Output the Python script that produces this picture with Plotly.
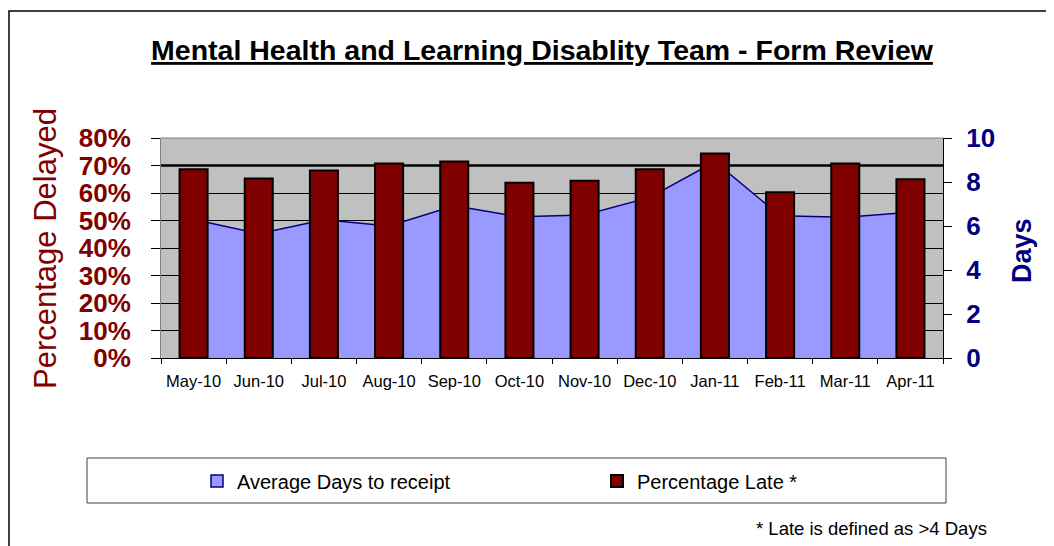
import plotly.graph_objects as go

categories = ["May-10", "Jun-10", "Jul-10", "Aug-10", "Sep-10", "Oct-10",
              "Nov-10", "Dec-10", "Jan-11", "Feb-11", "Mar-11", "Apr-11"]
pct_late = [0.686, 0.653, 0.682, 0.707, 0.715, 0.637,
            0.645, 0.686, 0.744, 0.603, 0.707, 0.650]
avg_days = [6.30, 5.65, 6.28, 6.00, 6.92, 6.42,
            6.50, 7.30, 8.92, 6.47, 6.40, 6.63]
pct_ticks = [0, 0.1, 0.2, 0.3, 0.4, 0.5, 0.6, 0.7, 0.8]
day_ticks = [0, 2, 4, 6, 8, 10]
target_pct = 0.70

FONT = "Liberation Sans, Arial, sans-serif"
DARKRED = "#800000"
NAVY = "#000080"
AREA = "#9999FF"

fig = go.Figure()

# Area: average days (main subplot, right-hand days axis)
fig.add_trace(go.Scatter(
    x=categories, y=avg_days, mode="lines", fill="tozeroy",
    fillcolor=AREA, line=dict(color=NAVY, width=1.5),
    name="Average Days to receipt", showlegend=False, yaxis="y"))

# legend proxy for the area series (square symbol)
fig.add_trace(go.Bar(
    x=[categories[0]], y=[None], name="Average Days to receipt",
    marker=dict(color=AREA, line=dict(color=NAVY, width=1.5)), yaxis="y"))

# Bars: percentage late (overlay subplot, left-hand percent axis)
fig.add_trace(go.Bar(
    x=categories, y=pct_late, name="Percentage Late *", width=0.43,
    marker=dict(color=DARKRED, line=dict(color="black", width=2)),
    yaxis="y2"))

# page coordinates (the page body adds an 8px offset)
OFF = 8
L, R, T, B = 161, 943, 138, 358
W, H = 1054 - OFF, 546 - OFF
pw, ph = R - L, B - T

def px(x):
    return (x - L) / pw

def py(y):
    return (B - y) / ph

fig.update_layout(
    width=W, height=H,
    margin=dict(l=L - OFF, r=W - (R - OFF), t=T - OFF, b=H - (B - OFF), autoexpand=False),
    paper_bgcolor="white", plot_bgcolor="#C0C0C0",
    barmode="overlay",
    font=dict(family=FONT, color="black"),
    title=dict(text="<b><u>Mental Health and Learning Disablity Team - Form Review</u></b>",
               x=(542 - OFF) / W, xanchor="center", y=1 - (50 - OFF) / H, yanchor="middle",
               font=dict(size=28.5, color="black", family=FONT)),
    xaxis=dict(type="category", range=[-0.5, 11.5], tickson="boundaries",
               ticks="outside", ticklen=5, tickcolor="black", tickwidth=1,
               showline=True, linecolor="black", linewidth=1,
               showgrid=False, tickfont=dict(size=16.5, color="black"),
               ticklabelstandoff=8),
    yaxis=dict(side="right", range=[0, 10], tickvals=day_ticks,
               ticks="outside", ticklen=8, tickcolor="black",
               showline=True, linecolor="black", linewidth=1,
               showgrid=False, zeroline=False,
               tickfont=dict(size=26, color=NAVY, family=FONT, weight="bold"),
               ticklabelstandoff=9),
    yaxis2=dict(side="left", overlaying="y", range=[0, 0.8], tickvals=pct_ticks,
                tickformat=".0%", ticks="outside", ticklen=9, tickcolor="black",
                showline=True, linecolor="#808080", linewidth=1,
                showgrid=True, gridcolor="black", gridwidth=1, zeroline=False,
                tickfont=dict(size=26, color=DARKRED, family=FONT, weight="bold"),
                ticklabelstandoff=15),
    legend=dict(orientation="h", x=px(997), xanchor="right", y=py(481), yanchor="middle",
                bgcolor="rgba(0,0,0,0)", borderwidth=0,
                entrywidth=355, entrywidthmode="pixels", itemwidth=30,
                font=dict(size=20, color="black", family=FONT), traceorder="normal"),
    showlegend=True,
)

# target line at 70%
fig.add_shape(type="line", xref="paper", x0=0, x1=1, yref="y",
              y0=target_pct / pct_ticks[-1] * day_ticks[-1],
              y1=target_pct / pct_ticks[-1] * day_ticks[-1],
              line=dict(color="black", width=2.5), layer="below")
# top border of plot area
fig.add_shape(type="line", xref="paper", yref="paper", x0=0, x1=1, y0=1, y1=1,
              line=dict(color="#808080", width=1))
# legend box
fig.add_shape(type="rect", xref="paper", yref="paper",
              x0=px(87), x1=px(946), y0=py(503), y1=py(458),
              line=dict(color="#404040", width=1), fillcolor="rgba(0,0,0,0)")
# chart border
fig.add_shape(type="rect", xref="paper", yref="paper",
              x0=px(9), x1=px(1070), y0=py(570), y1=py(11),
              line=dict(color="black", width=1.5), fillcolor="rgba(0,0,0,0)")

fig.add_annotation(text="Percentage Delayed", textangle=-90, showarrow=False,
                   xref="paper", yref="paper", x=px(45), y=py(249),
                   xanchor="center", yanchor="middle",
                   font=dict(size=31, color=DARKRED, family=FONT))
fig.add_annotation(text="<b>Days</b>", textangle=-90, showarrow=False,
                   xref="paper", yref="paper", x=px(1022), y=py(251),
                   xanchor="center", yanchor="middle",
                   font=dict(size=27, color=NAVY, family=FONT))
fig.add_annotation(text="* Late is defined as >4 Days", showarrow=False,
                   xref="paper", yref="paper", x=px(989), y=py(528),
                   xanchor="right", yanchor="middle",
                   font=dict(size=18.5, color="black", family=FONT))

fig.write_html("out.html")
